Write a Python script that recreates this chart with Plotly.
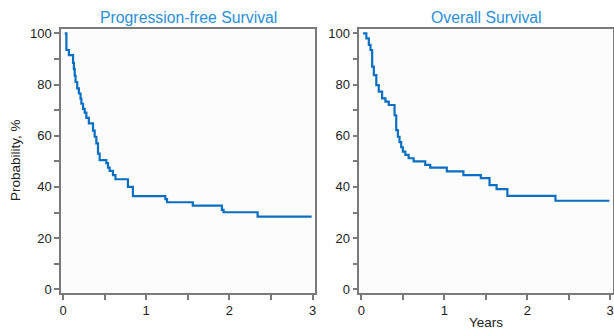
import plotly.graph_objects as go

# Progression-free survival (years, %)
pfs_t = [0.02, 0.04, 0.07, 0.12, 0.13, 0.14, 0.15, 0.17, 0.19, 0.21, 0.22, 0.24, 0.26, 0.28, 0.31, 0.36,
         0.38, 0.40, 0.42, 0.44, 0.52, 0.54, 0.56, 0.60, 0.63, 0.78, 0.84, 1.23, 1.25, 1.56, 1.91, 1.93,
         2.34, 2.99]
pfs_p = [100, 93.5, 91.5, 88.5, 86, 83.5, 81, 78.5, 76.5, 74.5, 72.5, 70.5, 69, 67, 64.8, 62,
         59.6, 57, 53, 50.5, 49.3, 47.5, 46.3, 44.6, 43, 40, 36.4, 35.2, 34, 32.7, 31, 30.1,
         28.4, 28.4]

# Overall survival (years, %)
os_t = [0.02, 0.06, 0.09, 0.11, 0.13, 0.15, 0.18, 0.21, 0.25, 0.29, 0.33, 0.40, 0.42, 0.44, 0.46,
        0.48, 0.50, 0.53, 0.57, 0.63, 0.77, 0.83, 1.03, 1.23, 1.44, 1.545, 1.63, 1.76, 2.34, 2.99]
os_p = [100, 98, 95.5, 93.5, 87, 83.7, 79.8, 77.2, 74.6, 73.3, 72, 68, 62.2, 59.6, 57.5,
        55.5, 53.8, 52.5, 51.2, 50, 48.6, 47.5, 46.1, 44.6, 43.4, 40.7, 39.1, 36.5, 34.6, 34.6]

panel_titles = ["Progression-free Survival", "Overall Survival"]
x_tickvals = [0, 1, 2, 3]
y_tickvals = [0, 20, 40, 60, 80, 100]

W, H = 614, 331
line_col = "#0a6fc2"
title_col = "#2b8fd9"
frame_col = "#7a7a7a"
font_fam = "Liberation Sans, Arial, sans-serif"

fig = go.Figure()
fig.add_trace(go.Scatter(x=pfs_t, y=pfs_p, mode="lines", line=dict(shape="hv", color=line_col, width=2.2),
                         xaxis="x", yaxis="y", showlegend=False, hoverinfo="skip"))
fig.add_trace(go.Scatter(x=os_t, y=os_p, mode="lines", line=dict(shape="hv", color=line_col, width=2.2),
                         xaxis="x2", yaxis="y2", showlegend=False, hoverinfo="skip"))

def px_x(p):
    return p / W

def px_y(p):
    return 1 - p / H

common_x = dict(range=[-0.025, 3.03], tickvals=x_tickvals, showline=True, mirror=True, linecolor=frame_col,
                linewidth=1.5, ticks="outside", ticklen=5, tickwidth=1.5, tickcolor=frame_col,
                showgrid=False, zeroline=False, tickfont=dict(size=13, color="#222"),
                automargin=False, ticklabeloverflow="allow",
                minor=dict(tickvals=[0.5, 1.5, 2.5], ticks="outside", ticklen=5, tickwidth=1.5, tickcolor=frame_col))
common_y = dict(range=[-1.45, 101.7], tickvals=y_tickvals, showline=True, mirror=True, linecolor=frame_col,
                linewidth=1.5, ticks="outside", ticklen=5, tickwidth=1.5, tickcolor=frame_col,
                showgrid=False, zeroline=False, tickfont=dict(size=13, color="#222"),
                automargin=False, ticklabeloverflow="allow",
                minor=dict(tickvals=[10, 30, 50, 70, 90], ticks="outside", ticklen=5, tickwidth=1.5, tickcolor=frame_col),
                domain=[px_y(293), px_y(29)])

fig.update_layout(
    width=W, height=H, margin=dict(l=0, r=0, t=0, b=0, autoexpand=False),
    paper_bgcolor="white", plot_bgcolor="#fcfcfc",
    font=dict(family=font_fam, color="#222"),
    xaxis=dict(common_x, domain=[px_x(61), px_x(315)], anchor="y"),
    yaxis=dict(common_y, anchor="x"),
    xaxis2=dict(common_x, domain=[px_x(359.3), px_x(612.7)], anchor="y2"),
    yaxis2=dict(common_y, anchor="x2"),
)

annos = [
    dict(text=panel_titles[0], x=px_x(188), y=px_y(18), font=dict(size=15.8, color=title_col)),
    dict(text=panel_titles[1], x=px_x(486), y=px_y(18), font=dict(size=15.8, color=title_col)),
    dict(text="Probability, %", x=px_x(15), y=px_y(160), textangle=-90, font=dict(size=13.5, color="#222")),
    dict(text="Years", x=px_x(486), y=px_y(322), font=dict(size=13.5, color="#222")),
]
for a in annos:
    fig.add_annotation(xref="paper", yref="paper", showarrow=False, xanchor="center", yanchor="middle", **a)

fig.write_html("out.html", config={"displayModeBar": False},
               post_script="document.body.style.margin='0px';document.body.style.overflow='hidden';")
